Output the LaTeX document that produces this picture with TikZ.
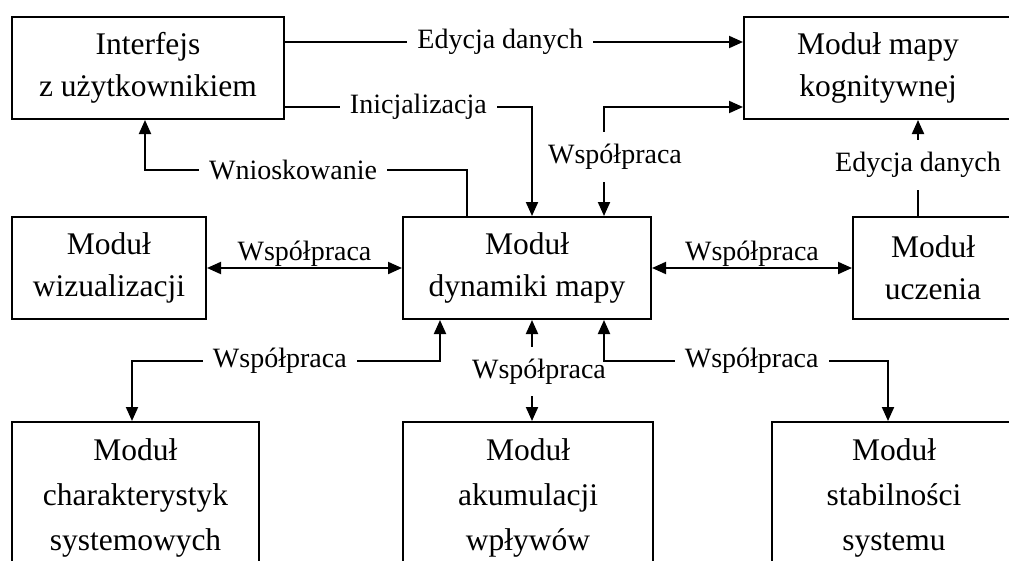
\documentclass[tikz,border=0pt]{standalone}
\usepackage{fontspec}
\setmainfont{Liberation Serif}
\usetikzlibrary{arrows.meta,positioning,calc}
\tikzset{
  block/.style   = {draw, line width=2pt, fill=white, minimum height=102pt,
                    inner sep=2pt, align=center, font=\fontsize{31.5}{42}\selectfont},
  tallblock/.style = {block, minimum height=152pt, font=\fontsize{31.5}{45}\selectfont},
  sig/.style     = {-{Triangle[length=14pt,width=12pt]}, line width=2pt},
  bisig/.style   = {{Triangle[length=14pt,width=12pt]}-{Triangle[length=14pt,width=12pt]}, line width=2pt},
  lbl/.style     = {font=\fontsize{28}{32}\selectfont, fill=white, inner xsep=10pt, inner ysep=12pt},
  lbltop/.style  = {font=\fontsize{28}{32}\selectfont, inner sep=1pt, above},
}
\begin{document}
\begin{tikzpicture}[x=1pt,y=-1pt]
  \useasboundingbox (0,0) rectangle (1009,560);
  \clip (0,0) rectangle (1009,560);
  % upper row
  \node[block, minimum width=272pt] (ui) at (148,68) {Interfejs\\z użytkownikiem};
  \node[block, minimum width=268pt] (kog) at (878,68) {Moduł mapy\\kognitywnej};
  % middle row
  \node[block, minimum width=194pt] (wiz) at (109,268) {Moduł\\wizualizacji};
  \node[block, minimum width=248pt] (dyn) at (527,268) {Moduł\\dynamiki mapy};
  \node[block, minimum width=160pt] (ucz) at (933,268) {Moduł\\uczenia};
  % lower row
  \node[tallblock, minimum width=247pt] (cha) at (135.5,498) {Moduł\\charakterystyk\\systemowych};
  \node[tallblock, minimum width=250pt] (aku) at (528,498) {Moduł\\akumulacji\\wpływów};
  \node[tallblock, minimum width=244pt] (sta) at (894,498) {Moduł\\stabilności\\systemu};
  % links of the user interface
  \draw[sig] ([yshift=26pt]ui.east) -- node[lbl, pos=0.47] {Edycja danych} ([yshift=26pt]kog.west);
  \draw[sig] ([yshift=-39pt]ui.east) -| node[lbl, pos=0.27] {Inicjalizacja} ([xshift=5pt]dyn.north);
  \draw[sig] ([xshift=-60pt]dyn.north) -- ++(0,-46) -| node[lbl, pos=0.27] {Wnioskowanie} ([xshift=-3pt]ui.south);
  % links to the cognitive map module
  \draw[bisig] ([xshift=77pt]dyn.north) |- node[lbl, pos=0.27, xshift=11pt] {Współpraca} ([yshift=-39pt]kog.west);
  \draw[sig] ([xshift=-15pt]ucz.north) -- node[lbl, pos=0.53] {Edycja danych} ([xshift=-15pt]ucz.north |- kog.south);
  % middle row cooperation
  \draw[bisig] (wiz) -- node[lbltop] {Współpraca} (dyn);
  \draw[bisig] (dyn) -- node[lbltop] {Współpraca} (ucz);
  % lower row cooperation
  \draw[bisig] ([xshift=-87pt]dyn.south) -- ++(0,41) -| node[lbl, pos=0.26] {Współpraca} ([xshift=-3.5pt]cha.north);
  \draw[bisig] ([xshift=5pt]dyn.south) -- node[lbl, pos=0.51, xshift=7pt] {Współpraca} ([xshift=5pt]dyn.south |- aku.north);
  \draw[bisig] ([xshift=77pt]dyn.south) -- ++(0,41) -| node[lbl, pos=0.26] {Współpraca} ([xshift=-6pt]sta.north);
\end{tikzpicture}
\end{document}
